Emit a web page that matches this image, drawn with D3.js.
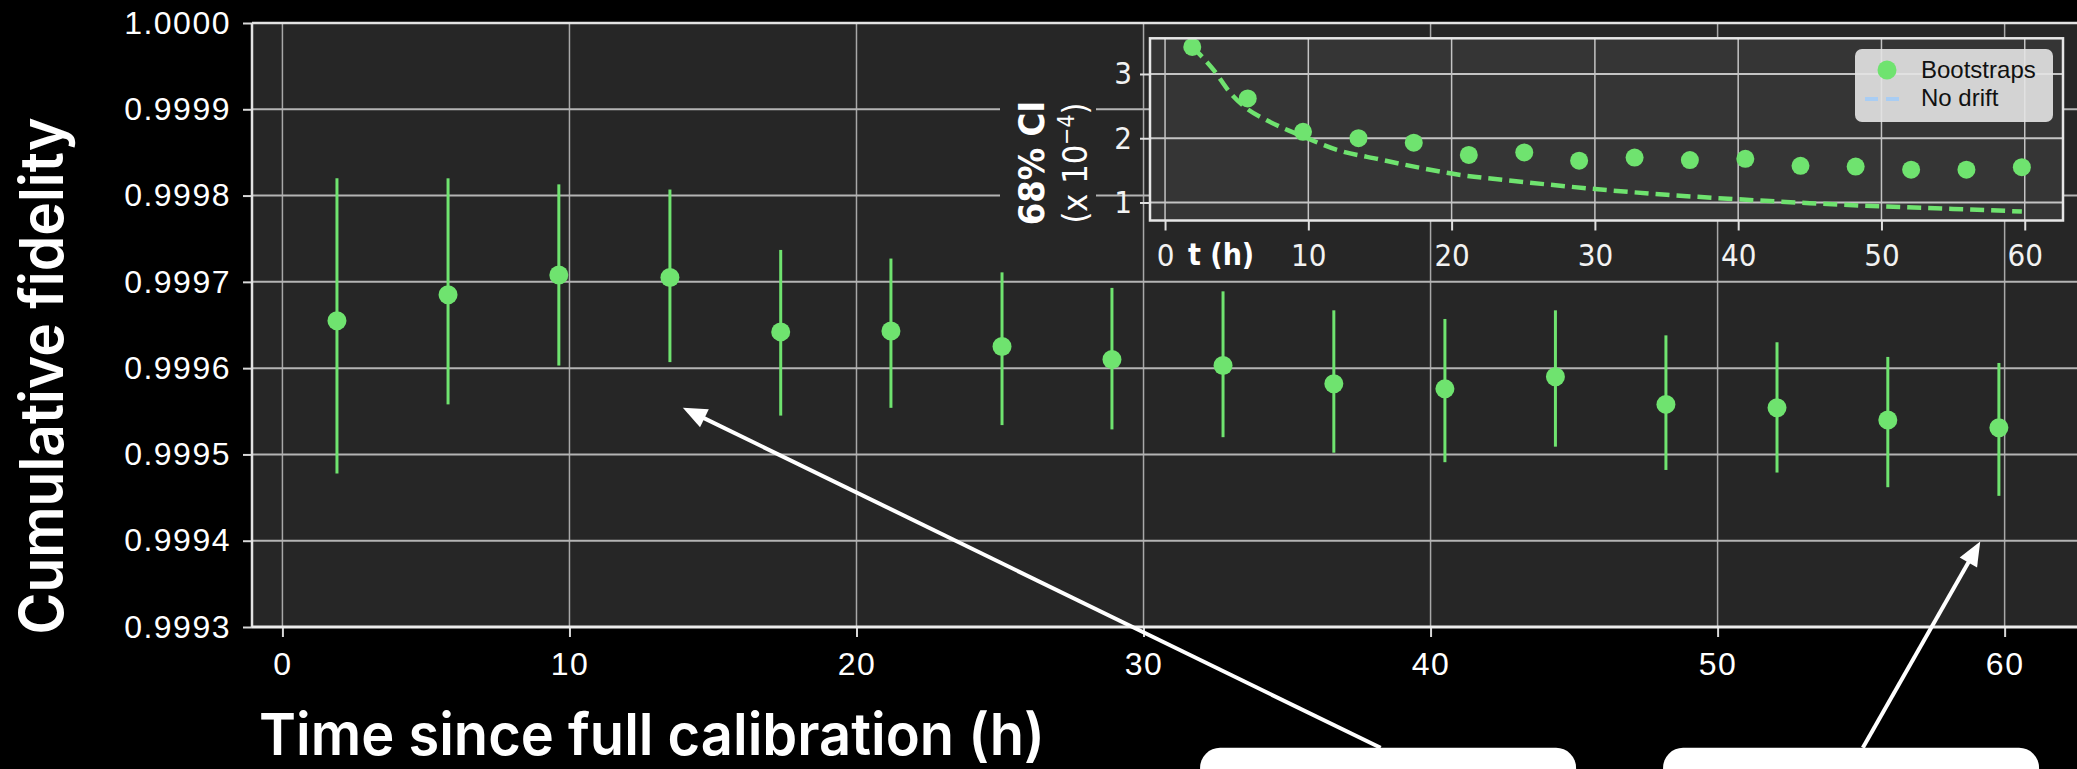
<!DOCTYPE html>
<html>
<head>
<meta charset="utf-8">
<script src="https://cdn.jsdelivr.net/npm/d3@7"></script>
<style>
html, body { margin: 0; padding: 0; background: #000; }
svg { display: block; }
</style>
</head>
<body>
<div id="chart"></div>
<script>
// values
var hours = [1.9, 5.77, 9.63, 13.5, 17.36, 21.2, 25.07, 28.9, 32.77, 36.63, 40.5, 44.35, 48.2, 52.07, 55.93, 59.8];
var fidelity = [0.999655, 0.999685, 0.999708, 0.999705, 0.999642, 0.999643, 0.999625, 0.99961,
                0.999603, 0.999582, 0.999576, 0.99959, 0.999558, 0.999554, 0.99954, 0.999531];
var ciLow = [0.999478, 0.999558, 0.999603, 0.999607, 0.999545, 0.999554, 0.999534, 0.999529,
             0.99952, 0.999502, 0.999491, 0.999509, 0.999482, 0.999479, 0.999462, 0.999452];
var ciHigh = [0.99982, 0.99982, 0.999813, 0.999807, 0.999737, 0.999727, 0.999711, 0.999693,
              0.999689, 0.999667, 0.999657, 0.999667, 0.999638, 0.99963, 0.999613, 0.999606];

// inset: 68% CI width (x 1e-4), bootstraps and no-drift curve
var ciWidth = [3.42, 2.62, 2.10, 2.00, 1.93, 1.74, 1.78, 1.65, 1.70, 1.66, 1.68, 1.57, 1.56, 1.51, 1.51, 1.55];
var driftHours = [1.9, 3.4, 4.5, 5.6, 7.1, 9.5, 12, 15, 17.8, 20, 25, 30, 35, 40, 45, 50, 55, 59.8];
var driftWidth = [3.42, 3.06, 2.72, 2.48, 2.28, 2.04, 1.82, 1.67, 1.54, 1.45, 1.32, 1.21, 1.12, 1.05, 0.99, 0.94, 0.90, 0.86];

var xTicks = [0, 10, 20, 30, 40, 50, 60];
var yTicks = [0.9993, 0.9994, 0.9995, 0.9996, 0.9997, 0.9998, 0.9999, 1.0];
var insetXTicks = [0, 10, 20, 30, 40, 50, 60];
var insetYTicks = [1, 2, 3];

// call-outs, in the main chart's data units (hours, fidelity)
var callouts = [
  {fromT: 38.26, fromF: 0.99916, toT: 13.95, toF: 0.999554, boxT0: 31.97, boxT1: 45.07},
  {fromT: 55.06, fromF: 0.99916, toT: 59.15, toF: 0.999399, boxT0: 48.1, boxT1: 61.2}
];

var width = 2077, height = 769;
var green = "#6fe36f";
var tickFont = "'Liberation Sans', Arial, sans-serif";
var insetFont = "'DejaVu Sans Condensed', 'DejaVu Sans', sans-serif";
var titleFont = "Inter, 'Liberation Sans', sans-serif";

var svg = d3.select("#chart").append("svg")
  .attr("width", width)
  .attr("height", height);

svg.append("rect").attr("width", width).attr("height", height).attr("fill", "#000");

var plot = {left: 252, top: 23, bottom: 627, right: 2085};
var x = d3.scaleLinear().domain([-1.06, 62.8]).range([plot.left, plot.right]);
var y = d3.scaleLinear().domain([0.9993, 1.0]).range([plot.bottom, plot.top]);

svg.append("rect")
  .attr("x", plot.left).attr("y", plot.top)
  .attr("width", plot.right - plot.left).attr("height", plot.bottom - plot.top)
  .attr("fill", "#262626");

// grid
svg.append("g").selectAll("line").data(xTicks).join("line")
  .attr("x1", d => x(d)).attr("x2", d => x(d))
  .attr("y1", plot.top).attr("y2", plot.bottom)
  .attr("stroke", "#a8a8a8").attr("stroke-width", 1.5);
svg.append("g").selectAll("line").data(yTicks).join("line")
  .attr("x1", plot.left).attr("x2", plot.right)
  .attr("y1", d => y(d)).attr("y2", d => y(d))
  .attr("stroke", "#b4b4b4").attr("stroke-width", 2);

// axes
var yAxis = svg.append("g")
  .attr("transform", "translate(" + plot.left + ",0)")
  .call(d3.axisLeft(y).tickValues(yTicks).tickFormat(d3.format(".4f")).tickSize(9).tickPadding(12));
var xAxis = svg.append("g")
  .attr("transform", "translate(0," + plot.bottom + ")")
  .call(d3.axisBottom(x).tickValues(xTicks).tickFormat(d3.format("d")).tickSize(10).tickPadding(15));
[yAxis, xAxis].forEach(function (g) {
  g.select(".domain").remove();
  g.selectAll("line").attr("stroke", "#d8d8d8").attr("stroke-width", 2);
  g.selectAll("text")
    .attr("fill", "#fff")
    .style("font-family", tickFont)
    .style("font-size", "32px")
    .style("letter-spacing", "1.5px");
});

// error bars + points
var rows = hours.map(function (h, i) {
  return {t: h, f: fidelity[i], lo: ciLow[i], hi: ciHigh[i], ci: ciWidth[i]};
});
svg.append("g").selectAll("line").data(rows).join("line")
  .attr("x1", d => x(d.t)).attr("x2", d => x(d.t))
  .attr("y1", d => y(d.lo)).attr("y2", d => y(d.hi))
  .attr("stroke", green).attr("stroke-width", 3);
svg.append("g").selectAll("circle").data(rows).join("circle")
  .attr("cx", d => x(d.t)).attr("cy", d => y(d.f))
  .attr("r", 9.5).attr("fill", green);

// spines
svg.append("line").attr("x1", plot.left).attr("x2", plot.left).attr("y1", plot.top).attr("y2", plot.bottom)
  .attr("stroke", "#e2e2e2").attr("stroke-width", 2.5);
svg.append("line").attr("x1", plot.left).attr("x2", plot.right).attr("y1", plot.top).attr("y2", plot.top)
  .attr("stroke", "#e2e2e2").attr("stroke-width", 2.5);
svg.append("line").attr("x1", plot.left).attr("x2", plot.right).attr("y1", plot.bottom).attr("y2", plot.bottom)
  .attr("stroke", "#ececec").attr("stroke-width", 3);

// axis titles
svg.append("text")
  .attr("transform", "translate(63," + 376 + ") rotate(-90)")
  .attr("text-anchor", "middle")
  .attr("fill", "#fff")
  .attr("textLength", 517).attr("lengthAdjust", "spacingAndGlyphs")
  .style("font-family", titleFont).style("font-weight", 600).style("font-size", "60px")
  .text("Cumulative fidelity");
svg.append("text")
  .attr("x", 259).attr("y", 755)
  .attr("fill", "#fff")
  .attr("textLength", 786).attr("lengthAdjust", "spacingAndGlyphs")
  .style("font-family", titleFont).style("font-weight", 600).style("font-size", "58px")
  .text("Time since full calibration (h)");

// ---------- inset ----------
var inset = {left: 1150, top: 38.3, right: 2063, bottom: 220.5};
var ix = d3.scaleLinear().domain([-1.05, 62.67]).range([inset.left, inset.right]);
var iy = d3.scaleLinear().domain([0.72, 3.555]).range([inset.bottom, inset.top]);

// label background (hides the main grid behind the y label)
svg.append("rect").attr("x", 1000).attr("y", 98).attr("width", 96).attr("height", 130).attr("fill", "#262626");

var ig = svg.append("g");
ig.append("rect")
  .attr("x", inset.left).attr("y", inset.top)
  .attr("width", inset.right - inset.left).attr("height", inset.bottom - inset.top)
  .attr("fill", "#353535");
ig.append("g").selectAll("line").data(insetXTicks).join("line")
  .attr("x1", d => ix(d)).attr("x2", d => ix(d))
  .attr("y1", inset.top).attr("y2", inset.bottom)
  .attr("stroke", "#c4c4c4").attr("stroke-width", 1.5);
ig.append("g").selectAll("line").data(insetYTicks).join("line")
  .attr("x1", inset.left).attr("x2", inset.right)
  .attr("y1", d => iy(d)).attr("y2", d => iy(d))
  .attr("stroke", "#c4c4c4").attr("stroke-width", 2);

var drift = driftHours.map(function (h, i) { return {t: h, v: driftWidth[i]}; });
ig.append("path")
  .datum(drift)
  .attr("d", d3.line().x(d => ix(d.t)).y(d => iy(d.v)).curve(d3.curveMonotoneX))
  .attr("fill", "none").attr("stroke", green).attr("stroke-width", 4.5)
  .attr("stroke-dasharray", "14,7");
ig.append("g").selectAll("circle").data(rows).join("circle")
  .attr("cx", d => ix(d.t)).attr("cy", d => iy(d.ci))
  .attr("r", 9).attr("fill", green);

ig.append("rect")
  .attr("x", inset.left).attr("y", inset.top)
  .attr("width", inset.right - inset.left).attr("height", inset.bottom - inset.top)
  .attr("fill", "none").attr("stroke", "#e6e6e6").attr("stroke-width", 2.5);

var iyAxis = ig.append("g")
  .attr("transform", "translate(" + inset.left + ",0)")
  .call(d3.axisLeft(iy).tickValues(insetYTicks).tickFormat(d3.format("d")).tickSize(10).tickPadding(8));
var ixAxis = ig.append("g")
  .attr("transform", "translate(0," + inset.bottom + ")")
  .call(d3.axisBottom(ix).tickValues(insetXTicks).tickFormat(d3.format("d")).tickSize(10).tickPadding(13));
[iyAxis, ixAxis].forEach(function (g) {
  g.select(".domain").remove();
  g.selectAll("line").attr("stroke", "#e0e0e0").attr("stroke-width", 2);
  g.selectAll("text")
    .attr("fill", "#f2f2f2")
    .style("font-family", insetFont)
    .style("font-size", "31px");
});

ig.append("text")
  .attr("x", 1188).attr("y", 265)
  .attr("fill", "#fff")
  .style("font-family", insetFont).style("font-weight", "bold").style("font-size", "30px")
  .text("t (h)");

// inset y label, two lines
ig.append("text")
  .attr("transform", "translate(1044,163) rotate(-90)")
  .attr("text-anchor", "middle").attr("fill", "#fff")
  .style("font-family", insetFont).style("font-weight", "bold").style("font-size", "36px")
  .text("68% CI");
var l2 = ig.append("text")
  .attr("transform", "translate(1087,163) rotate(-90)")
  .attr("text-anchor", "middle").attr("fill", "#fff")
  .style("font-family", insetFont).style("font-size", "34px");
l2.append("tspan").text("(x 10");
l2.append("tspan").attr("dy", -13).style("font-size", "23px").text("\u22124");
l2.append("tspan").attr("dy", 13).text(")");

// legend
var lg = ig.append("g").attr("transform", "translate(1855,49)");
lg.append("rect").attr("width", 198).attr("height", 73).attr("rx", 7)
  .attr("fill", "#e4e4e4").attr("fill-opacity", 0.9);
lg.append("circle").attr("cx", 32).attr("cy", 21).attr("r", 9.5).attr("fill", green);
lg.append("line").attr("x1", 10).attr("x2", 52).attr("y1", 50).attr("y2", 50)
  .attr("stroke", "#a9cdf3").attr("stroke-width", 4).attr("stroke-dasharray", "13,8");
lg.append("text").attr("x", 66).attr("y", 29).attr("fill", "#111")
  .style("font-family", tickFont).style("font-size", "24px").text("Bootstraps");
lg.append("text").attr("x", 66).attr("y", 57).attr("fill", "#111")
  .style("font-family", tickFont).style("font-size", "24px").text("No drift");

// ---------- call-outs ----------
var cg = svg.append("g");
cg.selectAll("rect").data(callouts).join("rect")
  .attr("x", d => x(d.boxT0)).attr("y", d => y(d.fromF))
  .attr("width", d => x(d.boxT1) - x(d.boxT0)).attr("height", 80)
  .attr("rx", 20).attr("fill", "#fff");

callouts.forEach(function (c) {
  var x0 = x(c.fromT), y0 = y(c.fromF), x1 = x(c.toT), y1 = y(c.toF);
  var ang = Math.atan2(y1 - y0, x1 - x0);
  var head = 24, half = 10;
  var bx = x1 - head * Math.cos(ang), by = y1 - head * Math.sin(ang);
  cg.append("line")
    .attr("x1", x0).attr("y1", y0).attr("x2", bx + 4 * Math.cos(ang)).attr("y2", by + 4 * Math.sin(ang))
    .attr("stroke", "#fff").attr("stroke-width", 4);
  var pts = [
    [x1, y1],
    [bx - half * Math.sin(ang), by + half * Math.cos(ang)],
    [bx + half * Math.sin(ang), by - half * Math.cos(ang)]
  ];
  cg.append("polygon").attr("points", pts.map(p => p.join(",")).join(" ")).attr("fill", "#fff");
});
</script>
</body>
</html>
